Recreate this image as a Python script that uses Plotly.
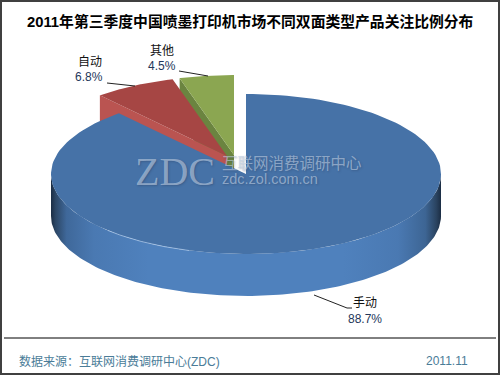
import numpy as np
import plotly.graph_objects as go

# ---- data ----
categories = ["手动", "自动", "其他"]
shares = [88.7, 6.8, 4.5]
title = "2011年第三季度中国喷墨打印机市场不同双面类型产品关注比例分布"
source = "数据来源：互联网消费调研中心(ZDC)"
date = "2011.11"

# ---- pie geometry (pixels) ----
CX, CY, A, B, DEPTH = 246, 174, 195, 80, 42
offsets = [(0, 0), (-19, -18), (-12, -19)]
top_colors = ["#4672A7", "#A64644", "#8BA651"]
side_colors = [None, "#BA5451", "#6B8440"]


def arc(t0, t1, dx=0, dy=0, n=160):
    t = np.radians(np.linspace(t0, t1, n))
    return CX + dx + A * np.sin(t), CY + dy - B * np.cos(t)


fig = go.Figure()


def poly(x, y, color, **kw):
    fig.add_trace(go.Scatter(x=list(x), y=list(y), mode="lines", fill="toself",
                             fillcolor=color, line=dict(width=0), hoverinfo="skip",
                             showlegend=False, **kw))


edges = np.concatenate([[0], np.cumsum(shares)]) * 3.6
# wedges are painted back to front: other, auto, manual
for i in (2, 1):
    dx, dy = offsets[i]
    t0, t1 = edges[i], edges[i + 1]
    ax, ay = CX + dx, CY + dy
    ex, ey = arc(t0, t0, dx, dy, 1)
    poly([ax, ex[0], ex[0], ax], [ay, ey[0], ey[0] + DEPTH, ay + DEPTH], side_colors[i])
    x, y = arc(t0, t1, dx, dy)
    poly(np.r_[ax, x, ax], np.r_[ay, y, ay], top_colors[i])

# manual wedge: shaded rim, then top face
bx, by = arc(90, 270)
poly(np.r_[bx, bx[::-1]], np.r_[by, by[::-1] + DEPTH], "#4F81BD",
     fillgradient=dict(type="horizontal", colorscale=[
         [0.0, "#1B2D44"], [0.012, "#2C4766"], [0.04, "#3F689A"], [0.11, "#4A79B2"],
         [0.25, "#4F81BD"], [0.75, "#4F81BD"], [0.89, "#4A79B2"], [0.96, "#3D6594"],
         [0.988, "#2A4360"], [1.0, "#1B2D44"]]))
x, y = arc(edges[0], edges[1])
poly(np.r_[CX, x, CX], np.r_[CY, y, CY], top_colors[0])
hx, hy = arc(197, 225, n=50)
fig.add_trace(go.Scatter(x=hx, y=hy, mode="lines", line=dict(color="rgba(190,215,245,0.6)", width=1),
                         hoverinfo="skip", showlegend=False))


def text(x, y, s, size, color, anchor="center", family="Liberation Sans, Noto Sans CJK SC", **kw):
    font = dict(size=size, color=color, family=family)
    font.update(kw)
    fig.add_annotation(x=x, y=y, text=s, showarrow=False, xanchor=anchor, yanchor="middle", font=font)


# watermark
MARK = "rgba(190,205,225,0.62)"
SHADOW = "1px 1px 2px rgba(40,60,90,0.55)"
text(133, 171, "ZDC", 40, MARK, "left", "Liberation Serif", shadow=SHADOW)
text(220, 163, "互联网消费调研中心", 15.5, MARK, "left", shadow=SHADOW)
text(220, 179, "zdc.zol.com.cn", 14.5, MARK, "left", shadow=SHADOW)

# title
text(250, 21, "<b>" + title + "</b>", 14.8, "#000000")

# labels
label_pos = [(365, 303, 365, 319), (90, 62, 89, 77), (162, 51, 162, 66)]
for name, val, (x1, y1, x2, y2) in zip(categories, shares, label_pos):
    text(x1, y1, name, 12, "#111111")
    text(x2, y2, f"{val}%", 12, "#24375A")

# footer
text(17, 361, source, 12, "#4A7C98", "left")
text(424, 361, date, 12, "#4A7C98", "left")

shapes = [dict(type="rect", x0=1, y0=1, x1=499, y1=374, line=dict(color="#404040", width=2)),
          dict(type="line", x0=4, y0=338, x1=496, y1=338, line=dict(color="#000000", width=1))]
for path in ("M107,83 L135,86", "M179,71 L208,76", "M314,295 L347,308 L352,308"):
    shapes.append(dict(type="path", path=path, line=dict(color="#222222", width=1)))

fig.update_layout(width=500, height=375, autosize=False, margin=dict(l=0, r=0, t=0, b=0),
                  paper_bgcolor="white", plot_bgcolor="white", shapes=shapes,
                  xaxis=dict(range=[0, 500], visible=False, fixedrange=True),
                  yaxis=dict(range=[375, 0], visible=False, fixedrange=True))
fig.write_html("out.html", config={"displayModeBar": False},
               post_script="document.body.style.margin='0';document.body.style.overflow='hidden';")
